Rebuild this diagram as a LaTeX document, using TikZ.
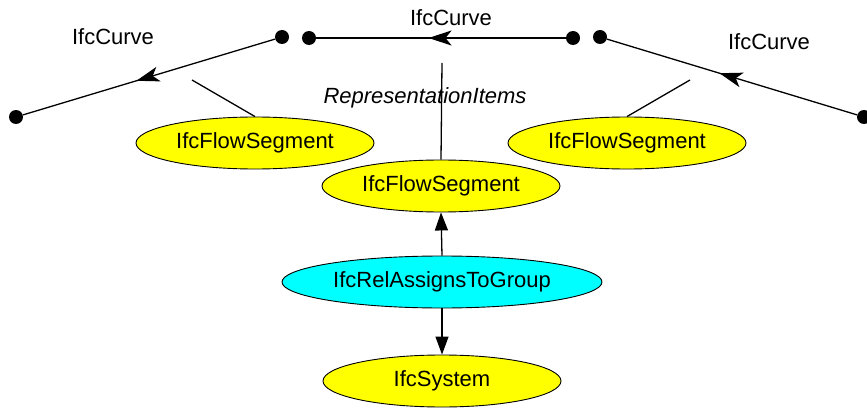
\documentclass[tikz,border=0pt]{standalone}
\usepackage{fontspec}
\setmainfont{Liberation Sans}
\usetikzlibrary{arrows.meta,decorations.markings,shapes.geometric}
\definecolor{entfill}{RGB}{255,255,0}
\definecolor{relfill}{RGB}{0,255,255}
\begin{document}
\begin{tikzpicture}[x=1pt,y=-1pt,
  txt/.style={font=\fontsize{22}{25}\selectfont},
  ent/.style={ellipse,draw=black,line width=0.9pt,fill=entfill,minimum width=238pt,
    minimum height=52pt,inner sep=0pt,txt},
  rel/.style={ent,fill=relfill,minimum width=320pt},
  dot/.style={circle,fill=black,inner sep=0pt,minimum size=14pt},
  curveline/.style={line width=1.3pt,postaction={decorate},
    decoration={markings,mark=at position 0.55 with
      {\arrow{Stealth[length=23pt,width=15pt,inset=6pt]}}}},
  link/.style={line width=1.3pt},
  flow/.style={line width=1.3pt,-{Triangle[length=18pt,width=13pt]}}
]
\useasboundingbox (0,0) rectangle (867,409);

% entity ellipses
\node[ent] (segL) at (255,143) {IfcFlowSegment};
\node[ent] (segR) at (627,143) {IfcFlowSegment};
\node[ent] (segC) at (441,186) {IfcFlowSegment};
\node[rel] (assign) at (442,282) {IfcRelAssignsToGroup};
\node[ent] (sys) at (442,381) {IfcSystem};

% curve end points
\node[dot] (lA) at (282,37) {};
\node[dot] (lB) at (16,117) {};
\node[dot] (mA) at (309,38) {};
\node[dot] (mB) at (573,38) {};
\node[dot] (rA) at (600,37) {};
\node[dot] (rB) at (864,117) {};

% curve labels
\node[txt] (lblL) at (113,37) {IfcCurve};
\node[txt] (lblM) at (451,18) {IfcCurve};
\node[txt] (lblR) at (769,42) {IfcCurve};
\node[txt,font=\fontsize{22}{25}\selectfont\itshape] (rep) at (425,98) {RepresentationItems};

% curves, directed towards the inner points
\draw[curveline] (lA) -- (lB);
\draw[curveline] (mB) -- (mA);
\draw[curveline] (rB) -- (rA);

% representation links
\coordinate (tieL) at (192,80);
\coordinate (tieM) at (442,63);
\coordinate (tieR) at (690,80);
\draw[link] (segL.north) -- (tieL);
\draw[link] (segC.north) -- (tieM);
\draw[link] (segR.north) -- (tieR);

% group assignment
\draw[flow] (assign.north) -- (segC.south);
\draw[flow] (assign.south) -- (sys.north);
\end{tikzpicture}
\end{document}
